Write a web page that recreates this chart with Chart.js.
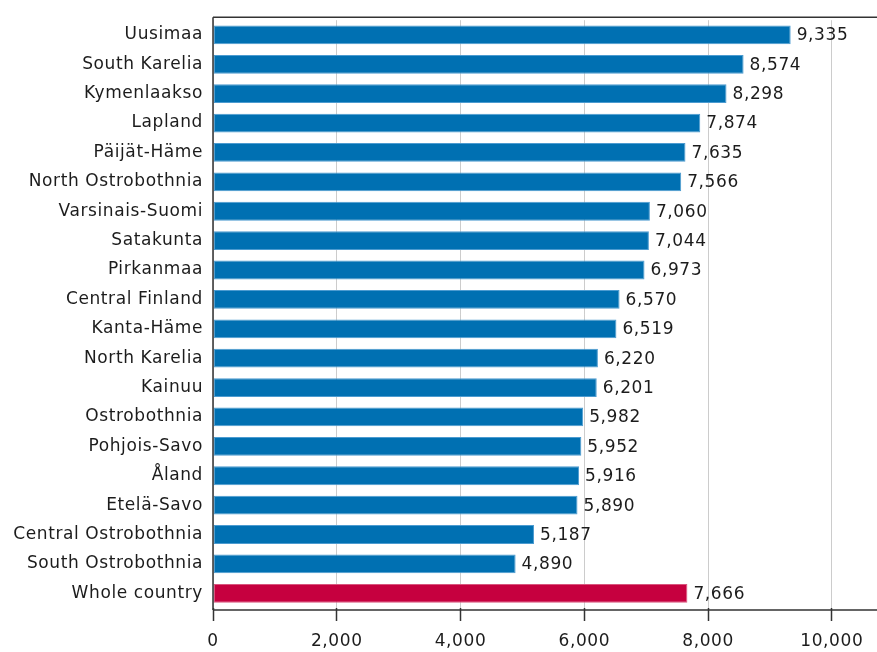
<!DOCTYPE html>
<html>
<head>
<meta charset="utf-8">
<script src="https://cdn.jsdelivr.net/npm/chart.js@4"></script>
<style>
  html, body { margin: 0; padding: 0; background: #fff; }
  canvas { display: block; }
</style>
</head>
<body>
<canvas id="c" width="877" height="652"></canvas>
<script>
const categories = [
  "Uusimaa", "South Karelia", "Kymenlaakso", "Lapland", "Päijät-Häme",
  "North Ostrobothnia", "Varsinais-Suomi", "Satakunta", "Pirkanmaa", "Central Finland",
  "Kanta-Häme", "North Karelia", "Kainuu", "Ostrobothnia", "Pohjois-Savo",
  "Åland", "Etelä-Savo", "Central Ostrobothnia", "South Ostrobothnia", "Whole country"
];
const values = [
  9335, 8574, 8298, 7874, 7635,
  7566, 7060, 7044, 6973, 6570,
  6519, 6220, 6201, 5982, 5952,
  5916, 5890, 5187, 4890, 7666
];
const xTicks = [0, 2000, 4000, 6000, 8000, 10000];
const highlightCategory = "Whole country";

const BLUE = "#0070b2";
const BLUE_EDGE = "#4c9bd0";
const RED = "#c6003f";
const RED_EDGE = "#d9557d";
const TEXT = "#1c1c1c";
const FONT = "'DejaVu Sans', Verdana, sans-serif";

const fmt = v => v.toLocaleString("en-US");

const spacingPlugin = {
  id: "spacing",
  beforeDraw(chart) { chart.ctx.letterSpacing = "0.6px"; }
};

const framePlugin = {
  id: "frame",
  afterDraw(chart) {
    const { ctx, chartArea } = chart;
    const top = chartArea.top - 3;
    const bottom = chartArea.bottom + 2;
    ctx.save();
    ctx.strokeStyle = "#333333";
    ctx.lineWidth = 1.5;
    ctx.beginPath();
    ctx.moveTo(chartArea.left, top);
    ctx.lineTo(chartArea.right, top);
    ctx.moveTo(chartArea.left, top);
    ctx.lineTo(chartArea.left, bottom);
    ctx.moveTo(chartArea.left, bottom);
    ctx.lineTo(chartArea.right, bottom);
    ctx.stroke();
    ctx.restore();
  }
};

const valueLabelPlugin = {
  id: "valueLabels",
  afterDatasetsDraw(chart) {
    const { ctx } = chart;
    const meta = chart.getDatasetMeta(0);
    ctx.save();
    ctx.font = "17px " + FONT;
    ctx.fillStyle = TEXT;
    ctx.textAlign = "left";
    ctx.textBaseline = "middle";
    meta.data.forEach((bar, i) => {
      ctx.fillText(fmt(values[i]), bar.x + 6, bar.y + 1);
    });
    ctx.restore();
  }
};

new Chart(document.getElementById("c"), {
  type: "bar",
  data: {
    labels: categories,
    datasets: [{
      data: values,
      backgroundColor: c => categories[c.dataIndex] === highlightCategory ? RED : BLUE,
      borderColor: c => categories[c.dataIndex] === highlightCategory ? RED_EDGE : BLUE_EDGE,
      borderWidth: 1,
      borderSkipped: false,
      barPercentage: 0.64,
      categoryPercentage: 1.0
    }]
  },
  options: {
    indexAxis: "y",
    responsive: false,
    animation: false,
    devicePixelRatio: 1,
    layout: { padding: { top: 14, right: 0, bottom: 0, left: 0 } },
    plugins: {
      legend: { display: false },
      tooltip: { enabled: false }
    },
    scales: {
      x: {
        type: "linear",
        min: 0,
        max: 10730,
        afterBuildTicks: s => { s.ticks = xTicks.map(v => ({ value: v })); },
        afterFit: s => { s.height = 44; },
        grid: {
          color: "#cccccc",
          lineWidth: 1,
          tickLength: 13,
          tickColor: "#333333",
          tickWidth: 1.5
        },
        border: { display: false },
        ticks: {
          color: TEXT,
          font: { family: FONT, size: 17 },
          padding: 10,
          maxRotation: 0,
          callback: v => fmt(v)
        }
      },
      y: {
        type: "category",
        afterFit: s => { s.width = 213; },
        grid: { display: false, drawTicks: false },
        border: { display: false },
        ticks: {
          color: TEXT,
          font: { family: FONT, size: 17 },
          padding: 10,
          autoSkip: false
        }
      }
    }
  },
  plugins: [spacingPlugin, valueLabelPlugin, framePlugin]
});
</script>
</body>
</html>
